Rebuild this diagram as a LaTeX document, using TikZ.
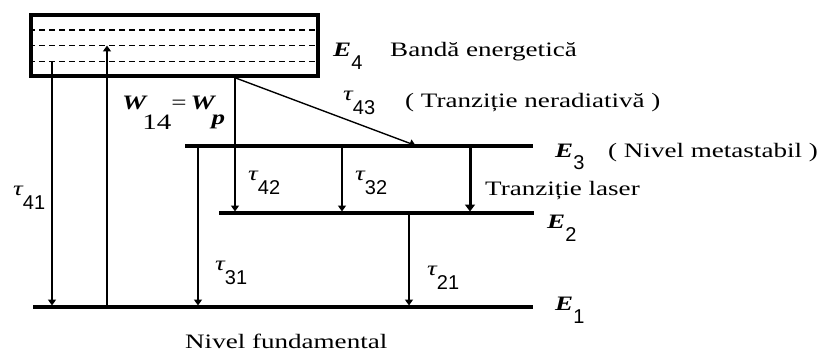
\documentclass[tikz,border=0pt]{standalone}
\usepackage{fontspec}
\newfontfamily\diagfont{Liberation Serif}[FakeStretch=1.32]
\newfontfamily\subfont{Liberation Sans}
\usepackage{tikz}
\usetikzlibrary{arrows.meta,positioning,calc}

\newcommand{\taulab}[1]{{\itshape τ}\raisebox{-14pt}{\fontsize{20}{20}\subfont #1}}
\newcommand{\enlab}[1]{{\bfseries\itshape E}\raisebox{-13pt}{\fontsize{20}{20}\subfont #1}}

\begin{document}
\begin{tikzpicture}[
  x=1pt, y=-1pt, font=\diagfont\fontsize{20.5}{24}\selectfont,
  level/.style={line width=3.6pt},
  bandbox/.style={draw, line width=3.5pt, minimum width=287pt, minimum height=61pt, inner sep=0pt},
  sub/.style={dash pattern=on 6pt off 4pt, line width=1.4pt},
  arr/.style={-{Triangle[length=6pt,width=8pt]}, line width=1.4pt, shorten >=1.5pt},
  laser/.style={-{Triangle[length=7pt,width=10pt]}, line width=3pt, shorten >=1.5pt},
  lbl/.style={anchor=base west, inner sep=0pt},
]
\useasboundingbox (0,0) rectangle (825,353);
\node[bandbox] (band) at (174.5,45.5) {};
\foreach \f/\n in {0.26/a,0.5/b,0.75/c}{
  \coordinate (dl\n) at ($(band.north west)!\f!(band.south west)$);
  \coordinate (dr\n) at ($(band.north east)!\f!(band.south east)$);
  \draw[sub] (dl\n) -- (dr\n);
}
\coordinate (E1l) at (33,307);  \coordinate (E1r) at (533,307);
\coordinate (E2l) at (219,213); \coordinate (E2r) at (534,213);
\coordinate (E3l) at (185,146); \coordinate (E3r) at (533,146);
\draw[level] (E1l) -- (E1r);
\draw[level] (E2l) -- (E2r);
\draw[level] (E3l) -- (E3r);
\coordinate (x41) at (52,0);  \coordinate (xp) at (107,0);
\coordinate (x31) at (198,0); \coordinate (x42) at (235,0);
\coordinate (x32) at (342,0); \coordinate (x21) at (409,0);
\coordinate (xl) at (470,0);  \coordinate (x43) at (417,0);
\draw[arr] (x41 |- dlc) -- (x41 |- E1l);
\draw[arr, shorten >=0pt] (xp |- E1l) -- (xp |- dlb);
\draw[arr] (x42 |- band.south) -- (x42 |- E2l);
\draw[arr] (x42 |- band.south) -- (x43 |- E3l);
\draw[arr] (x31 |- E3l) -- (x31 |- E1l);
\draw[arr] (x32 |- E3l) -- (x32 |- E2l);
\draw[laser] (xl |- E3l) -- (xl |- E2l);
\draw[arr] (x21 |- E2l) -- (x21 |- E1l);
\node[lbl] (e4) at (333,57) {\enlab{4}};
\node[lbl] (e3) at (555,157) {\enlab{3}};
\node[lbl] (e2) at (547,228) {\enlab{2}};
\node[lbl] (e1) at (555,310) {\enlab{1}};
\node[lbl] (bandtxt) at (390,57) {Bandă energetică};
\node[lbl] (nerad) at (405,107) {( Tranziție neradiativă )};
\node[lbl] (meta) at (608,157) {( Nivel metastabil )};
\node[lbl] (lastxt) at (485,195) {Tranziție laser};
\node[lbl] (fund) at (185,348) {Nivel fundamental};
\node[lbl] (wp) at (122,110) {{\bfseries\itshape W}\kern-4pt\raisebox{-20pt}{\fontsize{22}{22}\selectfont 14}={\kern4pt\bfseries\itshape W}\kern-3pt\raisebox{-15pt}{\bfseries\itshape p}};
\node[lbl] (t41) at (13,195) {\taulab{41}};
\node[lbl] (t42) at (248,180) {\taulab{42}};
\node[lbl] (t32) at (355,180) {\taulab{32}};
\node[lbl] (t31) at (215,270) {\taulab{31}};
\node[lbl] (t21) at (427,275) {\taulab{21}};
\node[lbl] (t43) at (343,100) {\taulab{43}};
\end{tikzpicture}
\end{document}
